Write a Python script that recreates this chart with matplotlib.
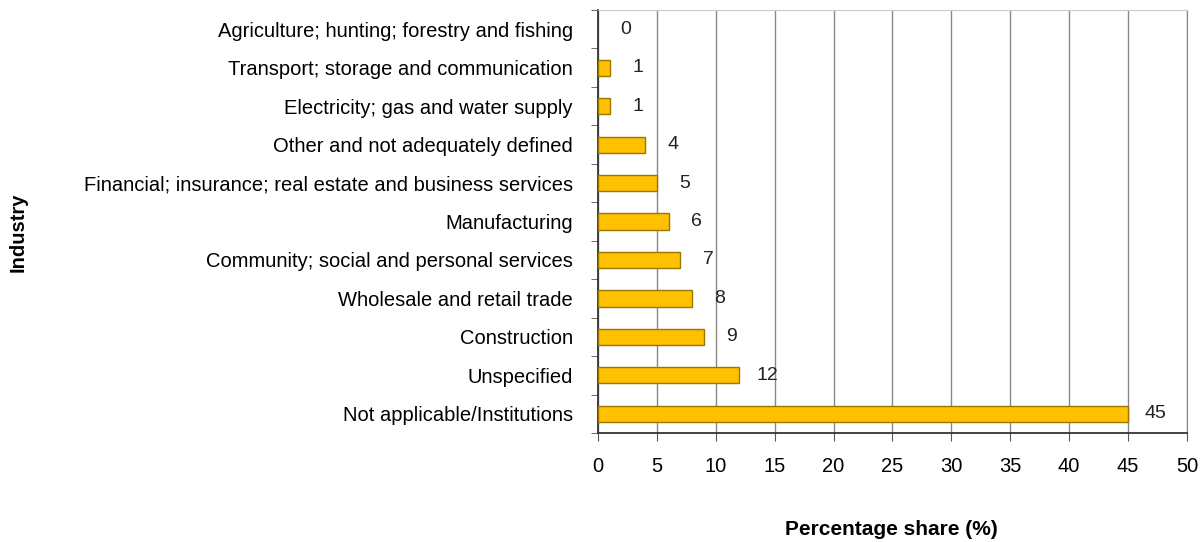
import numpy as np
import matplotlib
matplotlib.use('Agg')
import matplotlib.pyplot as plt
from matplotlib.ticker import FixedLocator

plt.rcParams['font.family'] = ['Liberation Sans', 'DejaVu Sans']

industries = [
    "Agriculture; hunting; forestry and fishing",
    "Transport; storage and communication",
    "Electricity; gas and water supply",
    "Other and not adequately defined",
    "Financial; insurance; real estate and business services",
    "Manufacturing",
    "Community; social and personal services",
    "Wholesale and retail trade",
    "Construction",
    "Unspecified",
    "Not applicable/Institutions",
]
shares = [0, 1, 1, 4, 5, 6, 7, 8, 9, 12, 45]
xticks = list(range(0, 51, 5))

fig = plt.figure(figsize=(12.03, 5.42), dpi=100)
ax = fig.add_axes([0.497, 0.201, 0.4897, 0.7805])

ypos = np.arange(len(industries))
# no outline on empty bars, otherwise a sliver shows at zero
edges = ['#9A7800' if v > 0 else 'none' for v in shares]
ax.barh(ypos, shares, height=0.42, color='#FFC000', edgecolor=edges,
        linewidth=1.0, zorder=3)

for y, v in zip(ypos, shares):
    ax.annotate(str(v), (v, y), xytext=(20, 0), textcoords='offset points',
                ha='center', va='center', fontsize=14, color='#222222')

ax.set_ylim(len(industries) - 0.5, -0.5)
ax.set_xlim(0, 50)
ax.set_xticks(xticks)
ax.set_yticks(ypos)
ax.set_yticklabels(industries)
ax.yaxis.set_minor_locator(FixedLocator(np.arange(-0.5, len(industries), 1)))

ax.tick_params(axis='y', which='major', length=0, pad=18, labelsize=14.5)
ax.tick_params(axis='y', which='minor', length=5, color='#555555')
ax.tick_params(axis='x', length=6, pad=11, labelsize=14.5, color='#555555')

ax.grid(axis='x', color='#888888', linewidth=1.0, zorder=0)
ax.set_axisbelow(True)

ax.spines['top'].set_color('#C8C8C8')
ax.spines['right'].set_color('#888888')
ax.spines['left'].set_color('#333333')
ax.spines['bottom'].set_color('#333333')
ax.spines['left'].set_linewidth(1.3)
ax.spines['bottom'].set_linewidth(1.3)

fig.text(0.015, 0.572, "Industry", rotation=90, ha='center',
         va='center', fontsize=14.5, fontweight='bold')
fig.text(0.741, 0.023, "Percentage share (%)", ha='center', va='center',
         fontsize=15, fontweight='bold')

fig.savefig('out.png', dpi=100)
